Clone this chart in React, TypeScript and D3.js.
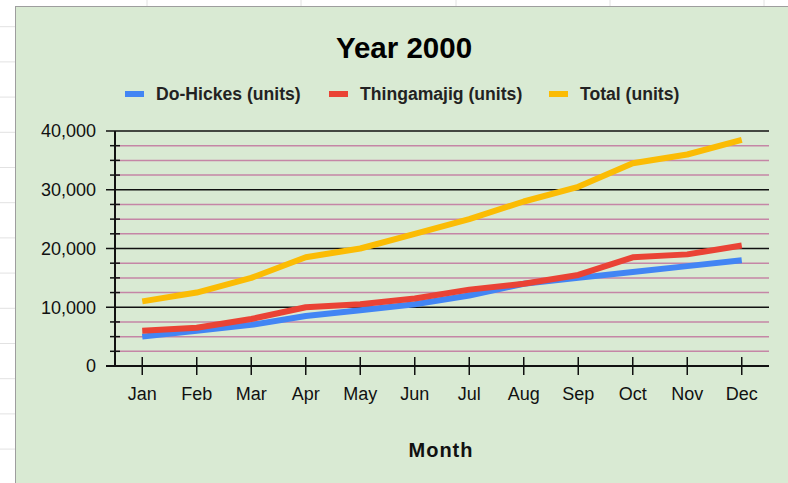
import React from "react";
import * as d3 from "d3";

const months = ["Jan", "Feb", "Mar", "Apr", "May", "Jun", "Jul", "Aug", "Sep", "Oct", "Nov", "Dec"];
const doHickes = [5000, 6000, 7000, 8500, 9500, 10500, 12000, 14000, 15000, 16000, 17000, 18000];
const thingamajig = [6000, 6500, 8000, 10000, 10500, 11500, 13000, 14000, 15500, 18500, 19000, 20500];
const total = [11000, 12500, 15000, 18500, 20000, 22500, 25000, 28000, 30500, 34500, 36000, 38500];
const seriesNames = ["Do-Hickes (units)", "Thingamajig (units)", "Total (units)"];
const seriesColors = ["#4285F4", "#EA4335", "#FBBC04"];
const majorTicks = [0, 10000, 20000, 30000, 40000];
const titleText = "Year 2000";
const xTitle = "Month";

const W = 788;
const H = 483;
const FONT = "'Liberation Sans', Arial, sans-serif";

export default function App() {
  const x = d3.scaleBand<string>().domain(months).range([115, 769]);
  const y = d3.scaleLinear().domain([0, 40000]).range([366, 131]);
  const minorTicks = d3.range(0, 40001, 2500).filter((v) => v % 10000 !== 0);
  const line = d3
    .line<number>()
    .x((_, i) => (x(months[i]) as number) + x.bandwidth() / 2)
    .y((d) => y(d))
    .curve(d3.curveLinear);
  const allSeries = [doHickes, thingamajig, total];
  const fmt = d3.format(",");

  const sheetRows = d3.range(26.7, H, 35.2);
  const sheetCols = [147, 301, 456, 610, 764];

  const legendX = [125, 329, 549];

  return (
    <svg
      width={W}
      height={H}
      style={{ position: "absolute", left: 0, top: 0, background: "#fff" }}
      fontFamily={FONT}
    >
      {sheetRows.map((r, i) => (
        <line key={"r" + i} x1={0} x2={15} y1={r} y2={r} stroke="#e2e2e2" strokeWidth={1} />
      ))}
      {sheetCols.map((c, i) => (
        <line key={"c" + i} x1={c} x2={c} y1={0} y2={6} stroke="#e2e2e2" strokeWidth={1} />
      ))}
      <rect x={15.5} y={6.5} width={W} height={H} fill="#D9EAD3" stroke="#9e9e9e" strokeWidth={1} />

      <text x={404} y={58} textAnchor="middle" fontSize={29.5} fontWeight="bold" fill="#000">
        {titleText}
      </text>

      {seriesNames.map((n, i) => (
        <g key={n}>
          <rect x={legendX[i]} y={91} width={19} height={6} fill={seriesColors[i]} />
          <text x={legendX[i] + 31} y={100} fontSize={17.6} fontWeight="bold" fill="#222">
            {n}
          </text>
        </g>
      ))}

      {minorTicks.map((v) => (
        <g key={"m" + v}>
          <line x1={115} x2={769} y1={y(v)} y2={y(v)} stroke="#C586A6" strokeWidth={1.5} />
          <line x1={110} x2={120} y1={y(v)} y2={y(v)} stroke="#111" strokeWidth={1.5} />
        </g>
      ))}
      {majorTicks.map((v) => (
        <g key={"M" + v}>
          <line x1={106} x2={769} y1={y(v)} y2={y(v)} stroke="#111" strokeWidth={1.5} />
          <text x={96} y={y(v)} dy="0.35em" textAnchor="end" fontSize={18} fill="#111">
            {fmt(v)}
          </text>
        </g>
      ))}
      <line x1={115} x2={115} y1={131} y2={367} stroke="#111" strokeWidth={2} />
      <line x1={106} x2={769} y1={366} y2={366} stroke="#111" strokeWidth={2} />
      {months.map((m) => {
        const cx = (x(m) as number) + x.bandwidth() / 2;
        return (
          <g key={m}>
            <line x1={cx} x2={cx} y1={357} y2={375} stroke="#111" strokeWidth={1.5} />
            <text x={cx} y={400} textAnchor="middle" fontSize={18} fill="#111">
              {m}
            </text>
          </g>
        );
      })}

      {allSeries.map((s, i) => (
        <path
          key={"s" + i}
          d={line(s) || ""}
          fill="none"
          stroke={seriesColors[i]}
          strokeWidth={6}
          strokeLinejoin="round"
        />
      ))}

      <text x={441} y={457} textAnchor="middle" fontSize={20} fontWeight="bold" letterSpacing={1} fill="#111">
        {xTitle}
      </text>
    </svg>
  );
}
